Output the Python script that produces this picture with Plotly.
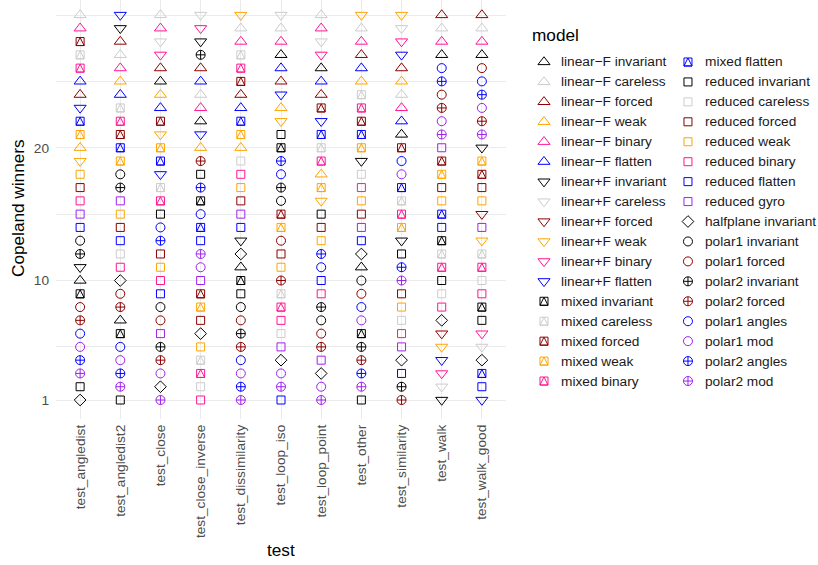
import plotly.graph_objects as go

# ---- data -----------------------------------------------------------------
tests = ["test_angledist", "test_angledist2", "test_close", "test_close_inverse",
         "test_dissimilarity", "test_loop_iso", "test_loop_point", "test_other",
         "test_similarity", "test_walk", "test_walk_good"]

y_ticks = [1, 10, 20]
y_minor = [5, 15, 25, 30]

# Copeland winners per test (same order as `tests`); None = model not ranked
linF_invariant = [10, 7, 25, 22, 11, 27, 26, 11, 21, 27, 27]
linF_careless = [30, 27, 30, 24, 29, 29, 30, 29, 24, 29, 29]
linF_forced = [24, 28, 26, 26, 24, 25, 24, 27, 26, 30, 30]
linF_weak = [20, 25, 24, 20, 20, 23, 18, 25, 25, None, None]
linF_binary = [29, 26, 29, 23, 28, 28, 29, 28, 23, 28, 28]
linF_flatten = [25, 24, 23, 25, 23, 26, 25, 26, 22, None, None]

linPF_invariant = [11, 29, None, 28, 13, None, None, 19, 13, 1, 20]
linPF_careless = [None, None, 28, 30, None, 30, 28, None, 29, 2, 5]
linPF_forced = [None, None, None, None, None, None, None, None, None, 6, 15]
linPF_weak = [19, None, 21, None, 30, 22, 16, 30, 30, 5, 13]
linPF_binary = [None, None, 27, 29, None, None, 27, None, 28, 3, 6]
linPF_flatten = [23, 30, 18, 21, None, 24, 22, None, 27, 4, 1]

mixed_invariant = [9, 6, None, 16, 10, 20, None, 6, None, 13, 8]
mixed_careless = [27, 23, 17, 4, 27, 9, 20, 24, 16, 12, 12]
mixed_forced = [28, 21, 22, 9, 25, 15, 23, 22, 20, 19, 18]
mixed_weak = [21, 19, 20, 8, 21, 14, 17, 20, 14, 18, 19]
mixed_binary = [26, 22, 16, 3, 26, 8, 19, 23, 15, 11, 11]
mixed_flatten = [22, 20, 19, 14, 22, None, 21, 21, 17, 15, 3]

reduced_invariant = [2, 1, 15, 18, 9, 21, 15, 1, 12, 10, 7]
reduced_careless = [None, 12, None, 2, 19, 6, None, 18, 7, 9, 10]
reduced_forced = [17, 14, 12, 7, 16, 12, 14, 15, 9, 17, 17]
reduced_weak = [18, 15, 11, 5, 17, 11, 13, 16, 8, 16, 16]
reduced_binary = [16, 11, 10, 1, 18, 7, 9, 17, 6, 8, 9]
reduced_flatten = [14, 13, 9, 13, 14, 1, 10, 13, 3, 14, 2]
reduced_gyro = [15, 16, 6, 10, 15, 5, 4, 14, 5, 20, 14]

halfplane_invariant = [1, 10, 2, 6, 12, 4, 3, 12, 4, 7, 4]

polar1_invariant = [13, 18, 8, None, 8, 16, 7, 10, None, None, None]
polar1_forced = [8, 9, 7, None, 7, 13, 6, 9, None, 24, 26]
polar2_invariant = [12, 17, 5, 27, 6, 17, 8, 5, 2, None, None]
polar2_forced = [7, 8, 4, 19, 5, 10, 5, 4, 1, 23, 22]
polar1_angles = [6, 5, 14, 15, 4, 18, 11, 8, 19, 26, 25]
polar1_mod = [5, 4, 3, 11, 3, 3, 2, 7, 18, 22, 23]
polar2_angles = [4, 3, 13, 17, 2, 19, 12, 3, 11, 25, 24]
polar2_mod = [3, 2, 1, 12, 1, 2, 1, 2, 10, 21, 21]

# ---- styling --------------------------------------------------------------
COLORS = {
    "invariant": "#000000", "careless": "#CCCCCC", "forced": "#8B0000",
    "weak": "#FFA500", "binary": "#FF1493", "flatten": "#0000FF",
    "gyro": "#A020F0", "angles": "#0000FF", "mod": "#A020F0",
}
SHAPES = {
    "linF": ("triangle-up-open", 10.5),
    "linPF": ("triangle-down-open", 10.5),
    "mixed": ("square-open", 8),
    "reduced": ("square-open", 8),
    "halfplane": ("diamond-open", 9),
    "polar1": ("circle-open", 9),
    "polar2": ("circle-cross-open", 9),
}

# (label, family, variant, values) in legend order
models = [
    ("linear\u2212F invariant", "linF", "invariant", linF_invariant),
    ("linear\u2212F careless", "linF", "careless", linF_careless),
    ("linear\u2212F forced", "linF", "forced", linF_forced),
    ("linear\u2212F weak", "linF", "weak", linF_weak),
    ("linear\u2212F binary", "linF", "binary", linF_binary),
    ("linear\u2212F flatten", "linF", "flatten", linF_flatten),
    ("linear+F invariant", "linPF", "invariant", linPF_invariant),
    ("linear+F careless", "linPF", "careless", linPF_careless),
    ("linear+F forced", "linPF", "forced", linPF_forced),
    ("linear+F weak", "linPF", "weak", linPF_weak),
    ("linear+F binary", "linPF", "binary", linPF_binary),
    ("linear+F flatten", "linPF", "flatten", linPF_flatten),
    ("mixed invariant", "mixed", "invariant", mixed_invariant),
    ("mixed careless", "mixed", "careless", mixed_careless),
    ("mixed forced", "mixed", "forced", mixed_forced),
    ("mixed weak", "mixed", "weak", mixed_weak),
    ("mixed binary", "mixed", "binary", mixed_binary),
    ("mixed flatten", "mixed", "flatten", mixed_flatten),
    ("reduced invariant", "reduced", "invariant", reduced_invariant),
    ("reduced careless", "reduced", "careless", reduced_careless),
    ("reduced forced", "reduced", "forced", reduced_forced),
    ("reduced weak", "reduced", "weak", reduced_weak),
    ("reduced binary", "reduced", "binary", reduced_binary),
    ("reduced flatten", "reduced", "flatten", reduced_flatten),
    ("reduced gyro", "reduced", "gyro", reduced_gyro),
    ("halfplane invariant", "halfplane", "invariant", halfplane_invariant),
    ("polar1 invariant", "polar1", "invariant", polar1_invariant),
    ("polar1 forced", "polar1", "forced", polar1_forced),
    ("polar2 invariant", "polar2", "invariant", polar2_invariant),
    ("polar2 forced", "polar2", "forced", polar2_forced),
    ("polar1 angles", "polar1", "angles", polar1_angles),
    ("polar1 mod", "polar1", "mod", polar1_mod),
    ("polar2 angles", "polar2", "angles", polar2_angles),
    ("polar2 mod", "polar2", "mod", polar2_mod),
]

FONT = "Liberation Sans, Arial, Helvetica, sans-serif"
TEXT_SIZE = 13.7
TITLE_SIZE = 17.2
W, H = 818, 565
LEG_ROWS = 17


def marker_traces(x, y, family, variant, xaxis="x", yaxis="y"):
    """Scatter trace(s) drawing one model's glyph at the given points."""
    color = COLORS[variant]
    symbol, size = SHAPES[family]
    out = [go.Scatter(
        x=x, y=y, mode="markers", xaxis=xaxis, yaxis=yaxis,
        hoverinfo="skip", showlegend=False, cliponaxis=False,
        marker=dict(symbol=symbol, size=size, color=color,
                    line=dict(color=color, width=1)),
    )]
    if family == "mixed":
        # square with an inscribed upward triangle
        out.append(go.Scatter(
            x=x, y=y, mode="markers", xaxis=xaxis, yaxis=yaxis,
            hoverinfo="skip", showlegend=False, cliponaxis=False,
            marker=dict(symbol="arrow-down-open", size=8, angle=180,
                        standoff=4, color=color,
                        line=dict(color=color, width=1)),
        ))
    return out


fig = go.Figure()

# main panel
for label, family, variant, vals in models:
    for tr in marker_traces(tests, vals, family, variant):
        fig.add_trace(tr)

# two-column key
annotations = []
for i, (label, family, variant, vals) in enumerate(models):
    col, row = divmod(i, LEG_ROWS)
    for tr in marker_traces([col], [row], family, variant, "x2", "y2"):
        fig.add_trace(tr)
    annotations.append(dict(
        x=col + 15 / 144, y=row, xref="x2", yref="y2", text=label,
        showarrow=False, xanchor="left", yanchor="middle",
        font=dict(family=FONT, size=TEXT_SIZE, color="#1A1A1A"),
    ))

annotations += [
    dict(x=530 / W, y=1 - 35 / H, xref="paper", yref="paper", text="model",
         showarrow=False, xanchor="left", yanchor="middle",
         font=dict(family=FONT, size=TITLE_SIZE, color="#000000")),
    dict(x=281 / W, y=1 - 550 / H, xref="paper", yref="paper", text="test",
         showarrow=False, xanchor="center", yanchor="middle",
         font=dict(family=FONT, size=TITLE_SIZE, color="#000000")),
    dict(x=18 / W, y=1 - 208 / H, xref="paper", yref="paper",
         text="Copeland winners", textangle=-90,
         showarrow=False, xanchor="center", yanchor="middle",
         font=dict(family=FONT, size=TITLE_SIZE, color="#000000")),
]

GRID = "#EBEBEB"
fig.update_layout(
    width=W, height=H, margin=dict(l=0, r=0, t=0, b=0),
    paper_bgcolor="white", plot_bgcolor="white", showlegend=False,
    font=dict(family=FONT),
    annotations=annotations,
    xaxis=dict(
        domain=[56 / W, 506 / W], type="category", categoryorder="array",
        categoryarray=tests, range=[-0.6, len(tests) - 0.4],
        showgrid=True, gridcolor=GRID, gridwidth=1.1, zeroline=False,
        showline=False, ticks="", tickangle=-90, ticklabelstandoff=2,
        tickfont=dict(family=FONT, size=TEXT_SIZE, color="#4D4D4D"),
    ),
    yaxis=dict(
        domain=[1 - 419 / H, 1], range=[-0.431, 31.13],
        tickmode="array", tickvals=y_ticks, ticktext=[str(v) for v in y_ticks],
        showgrid=True, gridcolor=GRID, gridwidth=1.1, zeroline=False,
        showline=False, ticks="", ticklabelstandoff=6,
        tickfont=dict(family=FONT, size=TEXT_SIZE, color="#4D4D4D"),
        minor=dict(tickmode="array", tickvals=y_minor, showgrid=True,
                   gridcolor=GRID, gridwidth=0.55, ticks=""),
    ),
    xaxis2=dict(domain=[516 / W, 1], range=[-0.1944, 1.903], visible=False,
                anchor="y2"),
    yaxis2=dict(domain=[0, 1], range=[25.226, -3.109], visible=False,
                anchor="x2"),
)

fig.write_html("out.html")
